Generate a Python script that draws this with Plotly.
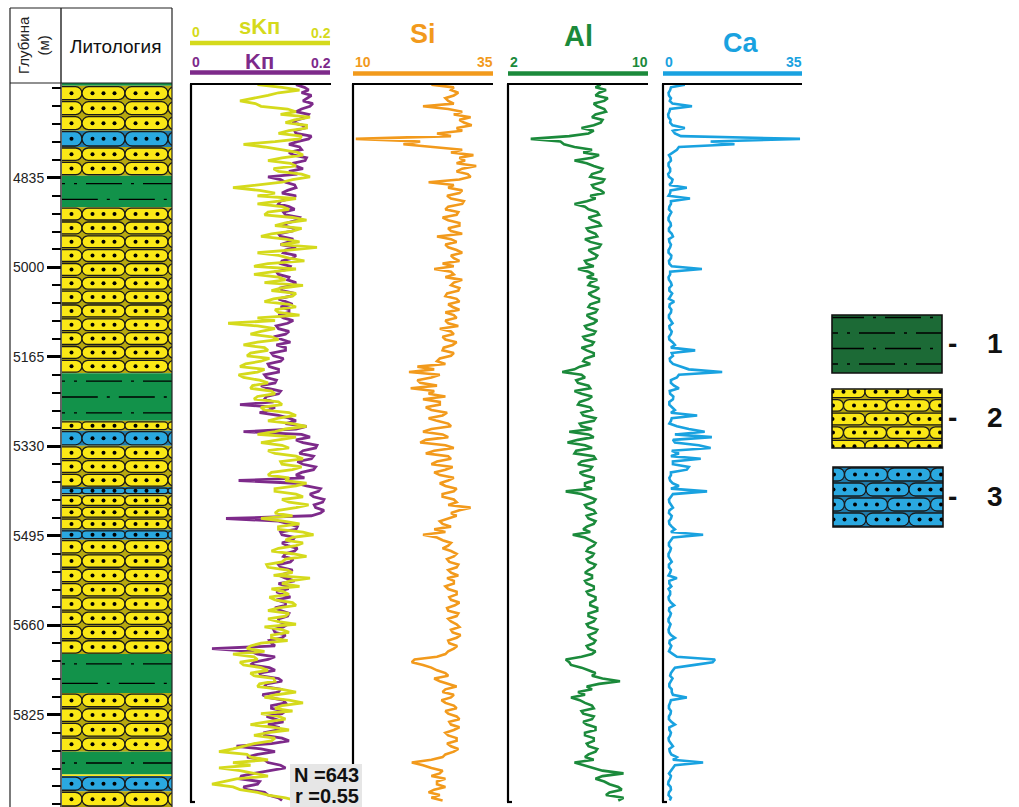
import plotly.graph_objects as go

W, H = 1019, 807
FONT = "Liberation Sans, Arial, sans-serif"

# ---------------- data ----------------
DEPTH_TOP = 4660
DEPTH_BOTTOM = 5995
DEPTH_TICKS = [4835, 5000, 5165, 5330, 5495, 5660, 5825]
DEPTH_MINOR_STEP = 33

# lithology intervals (m) : 1 - shale/siltstone, 2 - sandstone, 3 - calcareous sandstone
LITH_TOP = [4660, 4665, 4748, 4778, 4831, 4889, 5195, 5283, 5301, 5329, 5405, 5419, 5484, 5502, 5713, 5785, 5893, 5935, 5938, 5966]
LITH_BOTTOM = [4665, 4748, 4778, 4831, 4889, 5195, 5283, 5301, 5329, 5405, 5419, 5484, 5502, 5713, 5785, 5893, 5935, 5938, 5966, 5995]
LITH_CODE = [1, 2, 3, 2, 1, 2, 1, 2, 3, 2, 3, 2, 3, 2, 1, 2, 1, 2, 3, 2]
LEGEND_CODES = [1, 2, 3]

# log samples every 5 m starting at 4663 m
SAMPLE_TOP = 4663
SAMPLE_STEP = 5

SKP = [0.095, 0.130, 0.155, 0.125, 0.110, 0.088, 0.070, 0.092, 0.100, 0.138,
       0.150, 0.128, 0.170, 0.148, 0.135, 0.165, 0.165, 0.140, 0.125, 0.158,
       0.155, 0.120, 0.075, 0.105, 0.130, 0.152, 0.160, 0.130, 0.110, 0.142,
       0.150, 0.118, 0.125, 0.158, 0.170, 0.145, 0.130, 0.095, 0.060, 0.098,
       0.120, 0.095, 0.150, 0.125, 0.095, 0.130, 0.140, 0.110, 0.105, 0.145,
       0.165, 0.135, 0.120, 0.158, 0.145, 0.115, 0.100, 0.135, 0.155, 0.128,
       0.180, 0.140, 0.095, 0.125, 0.140, 0.162, 0.110, 0.090, 0.150, 0.118,
       0.090, 0.125, 0.135, 0.105, 0.160, 0.130, 0.115, 0.150, 0.145, 0.118,
       0.105, 0.140, 0.150, 0.120, 0.125, 0.155, 0.095, 0.120, 0.053, 0.095,
       0.120, 0.100, 0.085, 0.115, 0.125, 0.095, 0.075, 0.105, 0.110, 0.085,
       0.080, 0.112, 0.100, 0.078, 0.070, 0.105, 0.095, 0.068, 0.075, 0.098,
       0.110, 0.088, 0.085, 0.115, 0.120, 0.095, 0.090, 0.125, 0.130, 0.100,
       0.105, 0.140, 0.150, 0.125, 0.110, 0.145, 0.165, 0.135, 0.120, 0.095,
       0.150, 0.125, 0.100, 0.130, 0.140, 0.110, 0.120, 0.150, 0.160, 0.128,
       0.130, 0.158, 0.145, 0.115, 0.110, 0.140, 0.135, 0.165, 0.150, 0.120,
       0.120, 0.150, 0.160, 0.130, 0.140, 0.168, 0.150, 0.125, 0.120, 0.145,
       0.100, 0.132, 0.155, 0.125, 0.125, 0.160, 0.175, 0.145, 0.135, 0.160,
       0.150, 0.125, 0.115, 0.145, 0.165, 0.135, 0.130, 0.108, 0.110, 0.138,
       0.145, 0.118, 0.170, 0.142, 0.130, 0.155, 0.115, 0.132, 0.140, 0.112,
       0.120, 0.145, 0.150, 0.125, 0.110, 0.140, 0.135, 0.110, 0.125, 0.150,
       0.105, 0.130, 0.140, 0.115, 0.115, 0.138, 0.100, 0.085, 0.080, 0.105,
       0.060, 0.090, 0.095, 0.070, 0.075, 0.100, 0.110, 0.085, 0.090, 0.118,
       0.120, 0.098, 0.095, 0.130, 0.150, 0.122, 0.105, 0.140, 0.160, 0.130,
       0.120, 0.145, 0.100, 0.125, 0.135, 0.108, 0.085, 0.118, 0.140, 0.110,
       0.090, 0.120, 0.115, 0.090, 0.075, 0.060, 0.040, 0.080, 0.085, 0.110,
       0.060, 0.085, 0.040, 0.070, 0.090, 0.110, 0.065, 0.048, 0.030, 0.060,
       0.070, 0.095, 0.110, 0.135, 0.150]

KP = [0.150, 0.162, 0.168, 0.158, 0.172, 0.165, 0.160, 0.174, 0.170, 0.158,
      0.150, 0.168, 0.165, 0.152, 0.145, 0.160, 0.162, 0.148, 0.150, 0.172,
      0.168, 0.152, 0.140, 0.155, 0.158, 0.140, 0.147, 0.165, 0.163, 0.145,
      0.150, 0.160, 0.140, 0.152, 0.110, 0.128, 0.135, 0.148, 0.150, 0.138,
      0.130, 0.150, 0.142, 0.128, 0.125, 0.140, 0.148, 0.132, 0.135, 0.155,
      0.152, 0.138, 0.130, 0.148, 0.145, 0.125, 0.128, 0.146, 0.140, 0.128,
      0.150, 0.135, 0.132, 0.150, 0.145, 0.130, 0.128, 0.142, 0.140, 0.122,
      0.125, 0.140, 0.138, 0.150, 0.145, 0.128, 0.130, 0.148, 0.142, 0.125,
      0.135, 0.145, 0.128, 0.140, 0.140, 0.125, 0.132, 0.146, 0.138, 0.122,
      0.125, 0.140, 0.135, 0.118, 0.130, 0.142, 0.122, 0.135, 0.135, 0.115,
      0.118, 0.132, 0.128, 0.110, 0.112, 0.125, 0.125, 0.105, 0.108, 0.122,
      0.120, 0.100, 0.110, 0.128, 0.125, 0.108, 0.105, 0.118, 0.070, 0.120,
      0.112, 0.098, 0.125, 0.140, 0.150, 0.135, 0.165, 0.150, 0.075, 0.158,
      0.170, 0.150, 0.160, 0.180, 0.178, 0.160, 0.155, 0.175, 0.172, 0.152,
      0.160, 0.178, 0.175, 0.158, 0.150, 0.162, 0.068, 0.150, 0.165, 0.185,
      0.182, 0.170, 0.175, 0.190, 0.188, 0.176, 0.178, 0.190, 0.185, 0.172,
      0.050, 0.125, 0.140, 0.152, 0.150, 0.128, 0.130, 0.148, 0.145, 0.130,
      0.138, 0.152, 0.148, 0.135, 0.132, 0.146, 0.142, 0.125, 0.128, 0.145,
      0.140, 0.126, 0.135, 0.148, 0.125, 0.138, 0.138, 0.122, 0.130, 0.142,
      0.122, 0.135, 0.135, 0.120, 0.128, 0.140, 0.138, 0.125, 0.125, 0.138,
      0.132, 0.118, 0.120, 0.135, 0.130, 0.112, 0.115, 0.120, 0.030, 0.085,
      0.095, 0.120, 0.110, 0.090, 0.085, 0.112, 0.120, 0.098, 0.100, 0.125,
      0.130, 0.108, 0.105, 0.128, 0.125, 0.102, 0.110, 0.132, 0.135, 0.115,
      0.115, 0.135, 0.130, 0.108, 0.120, 0.132, 0.110, 0.125, 0.125, 0.105,
      0.105, 0.130, 0.140, 0.115, 0.065, 0.100, 0.120, 0.095, 0.080, 0.105,
      0.110, 0.128, 0.135, 0.110, 0.090, 0.072, 0.070, 0.098, 0.095, 0.075,
      0.080, 0.105, 0.110, 0.125, 0.130]

SI = [24.0, 28.0, 27.5, 28.8, 28.0, 26.5, 27.0, 28.0, 22.5, 27.0,
      29.5, 28.0, 31.0, 29.0, 29.8, 31.2, 28.5, 29.5, 25.0, 27.5,
      10.5, 22.0, 19.0, 24.0, 29.5, 27.5, 31.5, 29.0, 30.0, 28.5,
      32.0, 29.5, 28.5, 30.5, 31.0, 29.0, 23.5, 28.0, 27.0, 29.5,
      29.0, 26.8, 27.5, 29.8, 29.5, 27.0, 26.5, 28.8, 28.5, 26.0,
      27.0, 29.0, 29.0, 27.0, 27.5, 29.5, 25.0, 27.5, 28.5, 26.5,
      27.0, 28.5, 29.5, 27.5, 28.0, 29.0, 26.0, 28.0, 24.5, 27.5,
      28.0, 26.5, 29.5, 28.0, 27.5, 29.0, 28.8, 26.8, 26.5, 28.5,
      29.0, 27.0, 27.8, 29.0, 26.5, 28.0, 28.5, 26.5, 27.0, 28.8,
      25.5, 27.5, 28.0, 26.0, 26.5, 28.5, 27.8, 26.2, 26.0, 28.0,
      27.5, 25.5, 25.0, 26.5, 21.5, 24.5, 20.0, 25.5, 24.0, 21.5,
      22.0, 25.0, 20.3, 24.5, 23.5, 26.5, 22.5, 25.5, 25.5, 23.0,
      24.0, 26.8, 26.0, 23.5, 25.0, 27.0, 27.5, 24.0, 22.5, 26.0,
      27.0, 23.0, 22.0, 26.5, 28.0, 24.5, 23.0, 27.0, 27.5, 25.0,
      24.0, 27.8, 26.5, 24.5, 25.5, 28.0, 27.0, 25.5, 26.5, 28.5,
      28.0, 26.0, 26.0, 28.0, 28.5, 27.0, 31.0, 29.0, 27.5, 28.5,
      27.0, 25.5, 26.0, 27.5, 24.5, 26.5, 22.5, 25.0, 26.0, 27.5,
      27.0, 26.0, 27.5, 28.5, 28.0, 26.8, 27.2, 28.8, 28.5, 27.0,
      27.5, 28.8, 26.8, 28.0, 28.0, 26.5, 27.0, 28.5, 28.5, 27.2,
      27.5, 29.0, 28.2, 26.8, 27.0, 28.8, 28.5, 27.0, 27.5, 28.5,
      29.0, 27.5, 27.8, 29.2, 28.5, 27.0, 27.2, 28.6, 28.0, 27.0,
      26.5, 25.0, 21.0, 20.5, 22.5, 24.0, 25.0, 26.5, 27.0, 24.5,
      25.5, 27.0, 28.5, 26.5, 26.0, 28.0, 27.5, 25.8, 26.5, 28.0,
      28.5, 26.5, 27.0, 28.5, 29.0, 27.2, 27.5, 29.0, 28.0, 26.5,
      27.0, 28.5, 28.5, 26.8, 27.5, 28.8, 28.0, 26.5, 26.0, 24.0,
      20.5, 22.5, 24.0, 26.0, 25.5, 24.0, 26.5, 25.0, 25.0, 26.5,
      24.5, 23.5, 25.5, 24.0, 26.0]

AL = [7.3, 7.0, 7.6, 7.2, 7.0, 7.7, 7.5, 6.9, 7.1, 7.5,
      7.6, 7.0, 6.8, 7.4, 7.3, 6.9, 6.2, 6.9, 6.6, 5.5,
      3.3, 5.0, 5.2, 5.8, 6.8, 6.3, 7.2, 6.8, 5.8, 6.5,
      6.9, 7.4, 7.3, 6.8, 6.7, 7.5, 7.4, 6.8, 6.9, 7.3,
      7.5, 6.7, 7.0, 6.5, 5.8, 6.4, 6.6, 7.1, 7.2, 6.6,
      6.8, 7.2, 7.3, 6.5, 6.6, 7.0, 7.1, 6.4, 6.7, 7.3,
      7.2, 6.6, 6.8, 7.1, 7.0, 6.4, 6.5, 6.9, 6.0, 6.6,
      6.9, 6.5, 7.1, 6.7, 6.6, 7.2, 7.0, 6.6, 6.8, 7.2,
      7.2, 6.7, 6.6, 7.1, 7.0, 6.5, 6.7, 7.1, 6.9, 6.4,
      6.5, 7.0, 6.9, 6.3, 6.4, 6.9, 6.8, 6.2, 6.5, 6.9,
      6.9, 6.4, 6.3, 6.7, 6.1, 5.8, 5.1, 6.2, 6.4, 5.9,
      6.0, 6.6, 6.7, 5.8, 6.2, 6.8, 6.6, 6.1, 6.0, 6.7,
      6.8, 6.2, 6.3, 7.0, 6.9, 6.1, 6.2, 6.8, 5.5, 6.6,
      6.9, 6.0, 5.4, 6.4, 6.8, 5.9, 5.8, 6.9, 7.0, 6.2,
      6.0, 6.8, 6.7, 6.1, 6.3, 6.9, 6.9, 6.4, 6.4, 6.8,
      5.3, 6.2, 6.6, 7.0, 6.9, 6.4, 6.5, 6.9, 7.0, 6.5,
      6.6, 7.0, 6.9, 6.5, 6.3, 6.7, 5.7, 6.4, 6.7, 7.0,
      6.9, 6.6, 6.5, 6.9, 6.8, 6.5, 6.6, 7.0, 6.9, 6.6,
      6.4, 6.8, 6.8, 6.4, 6.5, 6.9, 6.9, 6.5, 6.6, 7.0,
      7.0, 6.7, 6.7, 7.1, 7.1, 6.6, 6.6, 7.0, 6.9, 6.5,
      6.6, 7.1, 7.0, 6.6, 6.7, 7.0, 6.9, 6.5, 6.6, 7.0,
      6.8, 6.2, 5.3, 5.5, 5.6, 6.2, 6.6, 7.0, 6.8, 7.4,
      8.4, 7.2, 6.5, 6.8, 6.0, 6.4, 5.6, 6.1, 6.4, 6.8,
      6.9, 6.2, 6.3, 6.9, 6.8, 6.3, 6.5, 7.0, 7.0, 6.4,
      6.4, 6.9, 6.9, 6.5, 6.6, 7.1, 7.0, 6.6, 6.4, 6.9,
      5.8, 6.3, 6.8, 7.4, 8.6, 7.4, 7.0, 7.5, 7.8, 8.3,
      8.5, 7.8, 7.6, 8.6, 8.3]

CA = [5.5, 2.0, 1.8, 1.4, 1.5, 2.0, 1.7, 2.4, 7.3, 1.8,
      1.6, 1.3, 1.4, 1.9, 1.8, 2.4, 5.5, 2.5, 3.0, 4.5,
      34.5, 12.0, 18.0, 4.0, 3.5, 2.5, 1.5, 1.9, 2.0, 1.4,
      1.4, 1.8, 1.8, 1.3, 1.5, 2.4, 2.2, 1.6, 6.0, 1.9,
      1.8, 1.4, 6.8, 2.0, 2.0, 1.6, 1.5, 2.1, 1.8, 1.4,
      1.4, 1.9, 2.0, 1.5, 1.5, 2.2, 2.5, 1.5, 1.6, 2.0,
      1.8, 1.4, 1.4, 2.1, 2.0, 1.5, 1.6, 2.2, 9.8, 1.8,
      1.8, 1.4, 1.5, 2.0, 2.2, 1.6, 1.6, 2.3, 1.9, 1.5,
      2.8, 1.7, 1.6, 2.1, 2.0, 1.5, 1.5, 2.0, 2.4, 1.6,
      1.7, 2.2, 2.0, 1.5, 1.6, 2.4, 3.0, 2.0, 8.1, 2.2,
      2.5, 1.7, 1.8, 2.5, 4.5, 6.5, 14.9, 4.0, 3.5, 2.0,
      2.0, 2.8, 4.0, 1.7, 1.8, 2.6, 2.5, 1.6, 1.6, 2.2,
      3.0, 2.0, 8.6, 2.2, 2.0, 1.6, 3.5, 6.5, 10.5, 3.0,
      12.3, 2.5, 3.0, 9.0, 12.0, 2.2, 4.0, 2.0, 9.5, 2.5,
      2.5, 6.5, 6.0, 2.0, 2.0, 1.6, 1.8, 2.4, 4.0, 2.0,
      11.1, 2.5, 2.0, 1.5, 1.6, 2.0, 2.5, 1.6, 1.5, 2.2,
      2.0, 1.5, 1.6, 2.2, 3.0, 2.0, 10.1, 2.5, 2.0, 1.5,
      1.5, 2.0, 1.8, 1.4, 1.4, 1.9, 2.2, 1.5, 1.5, 2.0,
      1.8, 1.4, 3.5, 1.6, 1.6, 2.1, 1.4, 1.8, 1.8, 1.4,
      1.5, 2.0, 2.8, 1.6, 1.5, 2.0, 1.8, 1.4, 1.4, 1.9,
      1.7, 1.4, 1.5, 2.0, 3.0, 1.7, 1.6, 2.1, 1.8, 1.5,
      2.5, 3.5, 13.1, 12.5, 8.0, 3.0, 2.5, 2.0, 1.8, 2.4,
      2.0, 1.6, 1.6, 2.2, 2.2, 2.5, 6.0, 2.0, 1.8, 1.5,
      1.5, 2.0, 1.9, 1.5, 1.5, 2.1, 3.0, 1.6, 1.6, 2.0,
      1.8, 1.4, 1.5, 2.0, 2.5, 1.6, 1.7, 2.1, 3.5, 2.5,
      10.1, 3.0, 2.5, 2.0, 1.5, 2.0, 1.8, 1.4, 1.3, 1.9,
      2.0, 1.5, 1.4, 2.0, 1.7]

KP_RANGE = [0, 0.2]
SI_RANGE = [10, 35]
AL_RANGE = [2, 10]
CA_RANGE = [0, 35]
STATS = ["N =643", "r =0.55"]

depth = [SAMPLE_TOP + SAMPLE_STEP * i for i in range(len(SI))]

# ---------------- styling / geometry (px) ----------------
PLOT_TOP = 83
COL = (62, 172)
TRK = {"kp": (191, 331), "si": (353, 493), "al": (508, 648), "ca": (663, 802)}
LEG_BOX = [(832, 315, 942, 373), (832, 389, 942, 448), (833, 467, 943, 527)]

C_SKP = "#d5da1c"
C_KP = "#7d2a8a"
C_SI = "#f29a1c"
C_AL = "#1b8a3b"
C_CA = "#19a2e0"
YEL, YEL_BG = "#fbe816", "#b8a90e"
BLUE, BLUE_BG = "#2aa8e0", "#1f7cad"
GREEN = "#12924a"
LEG_GREEN = "#1c6a36"


def px(x):
    return x / W


def py(y):
    return 1 - y / H


shapes = []
annotations = []
fig = go.Figure()


def pill_path(x0, x1, yt, yb, rx):
    ym = (yt + yb) / 2
    ry = (yb - yt) / 2
    k = 0.5523
    a, b = x0 + rx, x1 - rx
    f = lambda v: f"{v:.5f}"
    return (f"M{f(a)},{f(yt)} L{f(b)},{f(yt)} "
            f"C{f(b + k * rx)},{f(yt)} {f(x1)},{f(ym - k * ry)} {f(x1)},{f(ym)} "
            f"C{f(x1)},{f(ym + k * ry)} {f(b + k * rx)},{f(yb)} {f(b)},{f(yb)} "
            f"L{f(a)},{f(yb)} "
            f"C{f(a - k * rx)},{f(yb)} {f(x0)},{f(ym + k * ry)} {f(x0)},{f(ym)} "
            f"C{f(x0)},{f(ym - k * ry)} {f(a - k * rx)},{f(yt)} {f(a)},{f(yt)} Z")


def add_pills(xr, yr, x_lo, x_hi, y_lo, y_hi, n_rows, pill_w, centers, dot_dx, sx, sy, fill, outline, dots):
    pitch = (y_hi - y_lo) / n_rows
    gap = 2.0 / sy
    for r in range(n_rows):
        yt = y_lo + r * pitch + gap / 2
        yb = y_lo + (r + 1) * pitch - gap / 2
        ry_px = (yb - yt) * sy / 2
        rx = min(ry_px / sx, pill_w / 2)
        xc = centers[r % len(centers)]
        while xc - pill_w / 2 > x_lo:
            xc -= pill_w
        while xc - pill_w / 2 < x_hi:
            shapes.append(dict(type="path", xref=xr, yref=yr,
                               path=pill_path(xc - pill_w / 2, xc + pill_w / 2, yt, yb, rx),
                               fillcolor=fill, line=dict(color=outline, width=1.3), layer="below"))
            for dx in (-dot_dx, 0, dot_dx):
                if x_lo < xc + dx < x_hi:
                    dots[0].append(xc + dx)
                    dots[1].append((yt + yb) / 2)
            xc += pill_w


def add_shale_lines(xa, ya, x_lo, x_hi, ys, phases):
    for r, y in enumerate(ys):
        x0 = x_lo - phases[r % len(phases)]
        fig.add_trace(go.Scatter(x=[x0, x_hi + (x_hi - x_lo)], y=[y, y], mode="lines",
                                 line=dict(color="black", width=1.4, dash="36px,9px,3px,9px"),
                                 xaxis=xa, yaxis=ya, hoverinfo="skip", showlegend=False))


# ---------------- lithology column ----------------
sy_col = (H - PLOT_TOP) / (DEPTH_BOTTOM - DEPTH_TOP)
sx_col = COL[1] - COL[0]
col_dots = ([], [])
for top, bot, code in zip(LITH_TOP, LITH_BOTTOM, LITH_CODE):
    thick_px = (bot - top) * sy_col
    if code == 1:
        shapes.append(dict(type="rect", xref="x", yref="y", x0=0, x1=1, y0=top, y1=bot,
                           fillcolor=GREEN, line=dict(width=0), layer="below"))
        n = round(thick_px / 17)
        if n > 0:
            step = (bot - top) / n
            ys = [top + (i + 0.5) * step for i in range(n)]
            add_shale_lines("x", "y", 0, 1, ys, [0.30, 0.52])
    else:
        fill, bg = (YEL, YEL_BG) if code == 2 else (BLUE, BLUE_BG)
        n_rows = round(thick_px / 14)
        shapes.append(dict(type="rect", xref="x", yref="y", x0=0, x1=1, y0=top, y1=bot,
                           fillcolor=bg if n_rows > 0 else fill, line=dict(width=0), layer="below"))
        if n_rows > 0:
            add_pills("x", "y", 0, 1, top, bot, n_rows, 43 / sx_col, [(60.5 - COL[0]) / sx_col],
                      11 / sx_col, sx_col, sy_col, fill, "#1a1a1a", col_dots)
fig.add_trace(go.Scatter(x=col_dots[0], y=col_dots[1], mode="markers", xaxis="x", yaxis="y",
                         marker=dict(color="black", size=4), hoverinfo="skip", showlegend=False))

# ---------------- legend swatches ----------------
leg_axes = {}
for i, (code, (bx0, by0, bx1, by1)) in enumerate(zip(LEGEND_CODES, LEG_BOX)):
    xa, ya = f"x{6 + i}", f"y{2 + i}"
    bw, bh = bx1 - bx0, by1 - by0
    leg_axes[f"xaxis{6 + i}"] = dict(domain=[px(bx0), px(bx1)], range=[0, bw], visible=False,
                                     anchor=ya, fixedrange=True)
    leg_axes[f"yaxis{2 + i}"] = dict(domain=[py(by1), py(by0)], range=[bh, 0], visible=False,
                                     anchor=xa, fixedrange=True)
    dots = ([], [])
    if code == 1:
        shapes.append(dict(type="rect", xref=xa, yref=ya, x0=0, x1=bw, y0=0, y1=bh,
                           fillcolor=LEG_GREEN, line=dict(width=0), layer="below"))
        add_shale_lines(xa, ya, 0, bw, [2.5 + 15.5 * r for r in range(4)], [4, 30])
    else:
        fill, bg = (YEL, YEL_BG) if code == 2 else (BLUE, BLUE_BG)
        shapes.append(dict(type="rect", xref=xa, yref=ya, x0=0, x1=bw, y0=0, y1=bh,
                           fillcolor=bg, line=dict(width=0), layer="below"))
        if code == 2:
            add_pills(xa, ya, 0, bw, -4, bh + 5, 5, 43, [11.5, 33], 11, 1, 1, fill, "#1a1a1a", dots)
        else:
            add_pills(xa, ya, 0, bw, 0, bh, 4, 43, [33, 11.5], 11, 1, 1, fill, "#1a1a1a", dots)
        fig.add_trace(go.Scatter(x=dots[0], y=dots[1], mode="markers", xaxis=xa, yaxis=ya,
                                 marker=dict(color="black", size=4), hoverinfo="skip", showlegend=False))
    shapes.append(dict(type="rect", xref="paper", yref="paper", x0=px(bx0), x1=px(bx1),
                       y0=py(by1), y1=py(by0), line=dict(color="#111", width=1.6), layer="above"))
    cy = (by0 + by1) / 2
    annotations.append(dict(x=px(959), y=py(cy - 1), xref="paper", yref="paper", text="<b>-</b>",
                            showarrow=False, font=dict(family=FONT, size=28, color="#111")))
    annotations.append(dict(x=px(1005), y=py(cy - 1), xref="paper", yref="paper", text=f"<b>{code}</b>",
                            showarrow=False, font=dict(family=FONT, size=28, color="#111")))

# ---------------- log curves ----------------
fig.add_trace(go.Scatter(x=KP, y=depth, xaxis="x2", yaxis="y", mode="lines",
                         line=dict(color=C_KP, width=2.8), showlegend=False))
fig.add_trace(go.Scatter(x=SKP, y=depth, xaxis="x2", yaxis="y", mode="lines",
                         line=dict(color=C_SKP, width=2.8), showlegend=False))
fig.add_trace(go.Scatter(x=SI, y=depth, xaxis="x3", yaxis="y", mode="lines",
                         line=dict(color=C_SI, width=2.6), showlegend=False))
fig.add_trace(go.Scatter(x=AL, y=depth, xaxis="x4", yaxis="y", mode="lines",
                         line=dict(color=C_AL, width=2.6), showlegend=False))
fig.add_trace(go.Scatter(x=CA, y=depth, xaxis="x5", yaxis="y", mode="lines",
                         line=dict(color=C_CA, width=2.6), showlegend=False))

# ---------------- track frames & headers ----------------
def hline(x0, x1, y, color, width):
    shapes.append(dict(type="line", xref="paper", yref="paper", x0=px(x0), x1=px(x1),
                       y0=py(y), y1=py(y), line=dict(color=color, width=width), layer="above"))


def vline(x, y0, y1, color, width):
    shapes.append(dict(type="line", xref="paper", yref="paper", x0=px(x), x1=px(x),
                       y0=py(y0), y1=py(y1), line=dict(color=color, width=width), layer="above"))


def text(x, y, s, size, color, bold=True, angle=0, xanchor="center"):
    annotations.append(dict(x=px(x), y=py(y), xref="paper", yref="paper",
                            text=f"<b>{s}</b>" if bold else s, showarrow=False, textangle=angle,
                            xanchor=xanchor, yanchor="middle",
                            font=dict(family=FONT, size=size, color=color)))


for key, (x0, x1) in TRK.items():
    hline(x0 - 1, x1, 84, "black", 2.2)
    vline(x0, 84, 802, "black", 2.2)
    hline(x0 - 1, x0 + 4, 802, "black", 2.2)


def fmt(v):
    return f"{v:g}"


# sKп / Kп headers
x0, x1 = TRK["kp"]
hline(x0 - 1, x1 - 1, 43, C_SKP, 4.5)
text(259, 27, "sKп", 22, C_SKP)
text(x0 - 1, 32, fmt(KP_RANGE[0]), 14, C_SKP, xanchor="left")
text(x1 + 2, 33, fmt(KP_RANGE[1]), 14, C_SKP, xanchor="right")
hline(x0 - 1, x1 - 1, 72.5, C_KP, 4.5)
text(259, 62, "Kп", 22, C_KP)
text(x0 - 1, 62, fmt(KP_RANGE[0]), 14, C_KP, xanchor="left")
text(x1 + 2, 63, fmt(KP_RANGE[1]), 14, C_KP, xanchor="right")

for key, name, rng, color, ty, tsize in [("si", "Si", SI_RANGE, C_SI, 34, 27),
                                          ("al", "Al", AL_RANGE, C_AL, 36, 29),
                                          ("ca", "Ca", CA_RANGE, C_CA, 43, 27)]:
    x0, x1 = TRK[key]
    hline(x0, x1, 73.5, color, 4.5)
    text((x0 + x1) / 2 + (0 if key != "ca" else 8), ty, name, tsize, color)
    text(x0, 62, fmt(rng[0]), 14, color, xanchor="left")
    text(x1 + 2, 62, fmt(rng[1]), 14, color, xanchor="right")

# ---------------- depth / lithology table ----------------
TABLE_LINE = "#222"
hline(10, 172, 8, TABLE_LINE, 1.2)
hline(10, 172, 83, TABLE_LINE, 1.2)
vline(10, 8, 807, TABLE_LINE, 1.2)
vline(61, 8, 807, TABLE_LINE, 1.4)
vline(172, 8, 807, TABLE_LINE, 1.2)
text(34, 45, "Глубина<br>(м)", 15, "#222", bold=False, angle=-90)
text(115, 46, "Литология", 19, "#111", bold=False)

# ---------------- statistics box ----------------
shapes.append(dict(type="rect", xref="paper", yref="paper", x0=px(290), x1=px(362), y0=0, y1=py(764),
                   fillcolor="#e6e6e6", line=dict(width=0), layer="above"))
text(326, 775, STATS[0], 20, "#111")
text(327, 796, STATS[1], 20, "#111")

# ---------------- axes ----------------
axes = dict(
    xaxis=dict(domain=[px(COL[0]), px(COL[1])], range=[0, 1], visible=False, anchor="y", fixedrange=True),
    yaxis=dict(domain=[0, py(PLOT_TOP)], range=[DEPTH_BOTTOM, DEPTH_TOP], anchor="x",
               tickmode="array", tickvals=DEPTH_TICKS, ticktext=[str(t) for t in DEPTH_TICKS],
               ticks="outside", ticklen=14, tickwidth=2.6, tickcolor="black",
               showgrid=False, zeroline=False, showline=False, fixedrange=True,
               tickfont=dict(family=FONT, size=14, color="#222"),
               minor=dict(tickmode="linear", tick0=DEPTH_TICKS[0], dtick=DEPTH_MINOR_STEP,
                          ticks="outside", ticklen=9, tickwidth=2, tickcolor="black", showgrid=False)),
    xaxis2=dict(domain=[px(TRK["kp"][0]), px(TRK["kp"][1])], range=KP_RANGE, visible=False, anchor="y", fixedrange=True),
    xaxis3=dict(domain=[px(TRK["si"][0]), px(TRK["si"][1])], range=SI_RANGE, visible=False, anchor="y", fixedrange=True),
    xaxis4=dict(domain=[px(TRK["al"][0]), px(TRK["al"][1])], range=AL_RANGE, visible=False, anchor="y", fixedrange=True),
    xaxis5=dict(domain=[px(TRK["ca"][0]), px(TRK["ca"][1])], range=CA_RANGE, visible=False, anchor="y", fixedrange=True),
)
axes.update(leg_axes)

fig.update_layout(width=W, height=H, margin=dict(l=0, r=0, t=0, b=0),
                  paper_bgcolor="white", plot_bgcolor="rgba(0,0,0,0)", showlegend=False,
                  shapes=shapes, annotations=annotations, hovermode=False, **axes)

fig.write_html("out.html", config={"displayModeBar": False},
               post_script="document.body.style.margin='0px';")
